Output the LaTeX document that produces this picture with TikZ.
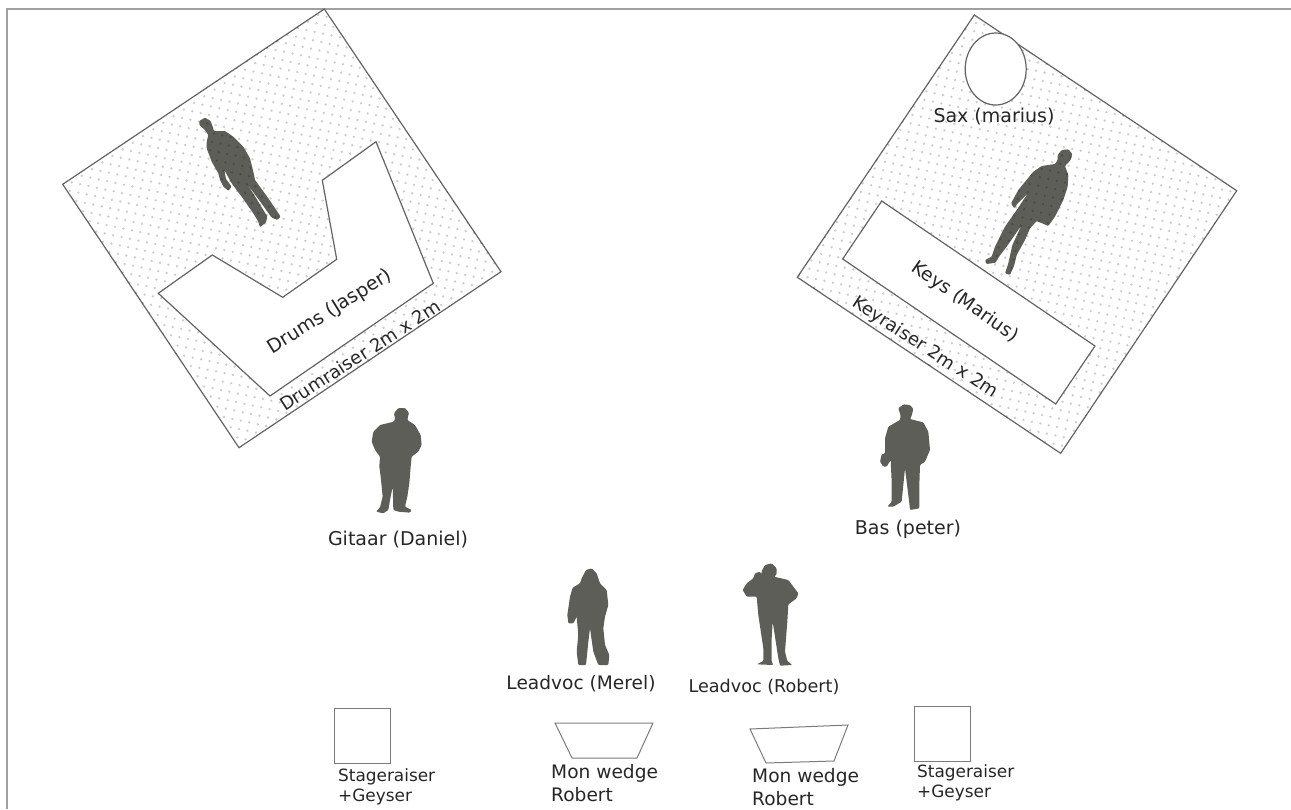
\documentclass[tikz,border=0pt]{standalone}
\usepackage{fontspec}
\setmainfont{DejaVu Sans}
\usetikzlibrary{patterns.meta}
\definecolor{figgray}{RGB}{93,94,87}
\definecolor{linegray}{RGB}{100,100,100}
\definecolor{framegray}{RGB}{160,160,160}

\begin{document}
\begin{tikzpicture}[
    x=1pt, y=-1pt,
    raiser/.style={draw=linegray, line width=1.2pt, fill=white},
    dotted area/.style={pattern={Dots[distance=8.6pt, radius=1.3pt, angle=-12]}, pattern color=black, fill opacity=0.2},
    blank/.style={draw=linegray, line width=1.2pt, fill=white},
    stagebox/.style={draw=linegray!85, line width=1pt, fill=white},
    person/.style={fill=figgray, rounded corners=1pt},
    caption/.style={font=\fontsize{19}{22}\selectfont, text=black!85, inner sep=0pt},
    small/.style={font=\fontsize{16.9}{20.5}\selectfont, text=black!85, inner sep=0pt, align=left, anchor=north west},
    medium/.style={small, font=\fontsize{18.6}{23}\selectfont}
]
\useasboundingbox (0,0) rectangle (1291,809);
\draw[framegray, line width=2pt] (6.5,809) -- (6.5,8.5) -- (1291,8.5);

% drum raiser
\fill[raiser] (324.3,9) -- (501,271.7) -- (239,447.7) -- (62.7,184.3) -- cycle;
\begin{scope}[shift={(190,105)}, scale=1/3]
\fill[person] (28,48) -- (45,38) -- (62,48) -- (68,65) -- (72,78) -- (105,78) -- (130,95) -- (160,125) -- (180,160) -- (190,200)
  -- (195,225) -- (235,280) -- (272,335) -- (262,345) -- (245,338) -- (205,282) -- (168,232) -- (200,282) -- (232,335) -- (228,352)
  -- (210,367) -- (205,350) -- (190,325) -- (155,275) -- (125,235) -- (103,195) -- (108,222) -- (125,245) -- (115,257) -- (100,245)
  -- (90,225) -- (85,205) -- (65,170) -- (50,130) -- (50,110) -- (55,90) -- (45,75) -- (28,60) -- cycle;
\end{scope}
\fill[dotted area] (324.3,9) -- (501,271.7) -- (239,447.7) -- (62.7,184.3) -- cycle;
\draw[blank] (376,141.7) -- (322.3,180.3) -- (336.7,259.3) -- (282.7,297.3) -- (212.3,255) -- (158.3,293.3) -- (270,396) -- (433.3,283.3) -- cycle;
\node[caption, rotate=32] (drums) at (330,312) {Drums (Jasper)};
\node[caption, rotate=33, font=\fontsize{18}{22}\selectfont] (drumraiser) at (360,355) {Drumraiser 2m x 2m};

% key raiser
\fill[raiser] (974.3,15) -- (1236.7,190.7) -- (1060.7,453.3) -- (797.3,277.3) -- cycle;
\begin{scope}[shift={(975,140)}, scale=1/3]
\fill[person] (248,45) -- (260,30) -- (280,28) -- (292,42) -- (287,60) -- (270,78) -- (280,105) -- (278,140) -- (265,180) -- (240,230)
  -- (220,258) -- (185,243) -- (165,265) -- (150,300) -- (125,345) -- (118,375) -- (105,405) -- (90,400) -- (100,370) -- (112,315)
  -- (140,255) -- (95,320) -- (72,350) -- (62,368) -- (35,372) -- (30,360) -- (50,350) -- (60,320) -- (90,260) -- (125,210)
  -- (160,158) -- (128,190) -- (118,205) -- (108,190) -- (130,150) -- (175,95) -- (200,78) -- (240,72) -- (248,60) -- cycle;
\end{scope}
\fill[dotted area] (974.3,15) -- (1236.7,190.7) -- (1060.7,453.3) -- (797.3,277.3) -- cycle;
\draw[blank] (881.7,201) -- (1095,346) -- (1055.7,404) -- (842.7,259) -- cycle;
\draw[blank] (995.7,69) ellipse [x radius=30.5, y radius=36];
\node[caption] (sax) at (994,117) {Sax (marius)};
\node[caption, rotate=-35, font=\fontsize{18.6}{22}\selectfont] (keys) at (965,302) {Keys (Marius)};
\node[caption, rotate=-33, font=\fontsize{18}{22}\selectfont] (keyraiser) at (925,348) {Keyraiser 2m x 2m};

% band on the floor
\begin{scope}[shift={(320,400)}, scale=1/3]
\fill[person] (222,40) -- (235,24) -- (255,24) -- (267,38) -- (262,60) -- (285,75) -- (302,105) -- (305,135) -- (295,155) -- (275,170)
  -- (272,200) -- (268,250) -- (262,290) -- (255,320) -- (275,330) -- (270,338) -- (235,335) -- (220,330) -- (218,260) -- (210,300)
  -- (205,330) -- (190,340) -- (168,335) -- (180,322) -- (188,290) -- (182,230) -- (178,200) -- (180,170) -- (165,150) -- (155,125)
  -- (160,95) -- (180,75) -- (222,65) -- (225,55) -- cycle;
\end{scope}
\begin{scope}[shift={(860,395)}, scale=1/3]
\fill[person] (115,40) -- (130,28) -- (150,30) -- (160,42) -- (155,62) -- (150,72) -- (190,82) -- (205,110) -- (210,165) -- (195,200)
  -- (180,210) -- (178,270) -- (178,340) -- (150,345) -- (148,325) -- (135,220) -- (125,320) -- (100,335) -- (82,335) -- (95,320)
  -- (95,260) -- (92,195) -- (80,215) -- (70,215) -- (60,200) -- (65,178) -- (75,175) -- (75,130) -- (85,95) -- (120,75) -- (122,62) -- cycle;
\end{scope}
\begin{scope}[shift={(550,555)}, scale=1/3]
\fill[person] (95,70) -- (108,45) -- (125,40) -- (140,55) -- (150,85) -- (170,105) -- (175,150) -- (165,185) -- (160,220) -- (165,270)
  -- (178,300) -- (175,330) -- (145,330) -- (130,290) -- (120,220) -- (115,260) -- (108,330) -- (85,330) -- (80,290) -- (85,240)
  -- (80,185) -- (70,205) -- (55,205) -- (52,180) -- (60,125) -- (68,98) -- (90,85) -- cycle;
\fill[person] (635,48) -- (645,30) -- (665,25) -- (680,40) -- (680,58) -- (672,65) -- (715,75) -- (745,115) -- (740,130) -- (715,148)
  -- (712,200) -- (705,290) -- (712,318) -- (727,330) -- (690,332) -- (685,310) -- (668,200) -- (665,250) -- (665,320) -- (670,330)
  -- (620,328) -- (640,318) -- (640,280) -- (625,180) -- (620,125) -- (590,125) -- (578,105) -- (590,85) -- (610,70) -- (615,55)
  -- (630,50) -- (635,58) -- cycle;
\end{scope}
\node[caption] (gitaar) at (398,540) {Gitaar (Daniel)};
\node[caption] (bas) at (908,529) {Bas (peter)};
\node[caption, font=\fontsize{18.6}{22}\selectfont] (merel) at (581,684) {Leadvoc (Merel)};
\node[caption, font=\fontsize{17.6}{22}\selectfont] (robert) at (764,687) {Leadvoc (Robert)};

% front of stage
\node[stagebox, inner sep=0pt, minimum width=56pt, minimum height=55pt] (raiserl) at (362,735.5) {};
\node[stagebox, inner sep=0pt, minimum width=56pt, minimum height=55pt] (raiserr) at (942,733.5) {};
\draw[stagebox] (555,723) -- (653,723) -- (637,758) -- (572,758) -- cycle;
\draw[stagebox] (750,729) -- (848,725) -- (834,761) -- (766,763) -- cycle;
\node[small] (stagel) at (338,768) {Stageraiser\\+Geyser};
\node[small] (stager) at (917,764) {Stageraiser\\+Geyser};
\node[medium] (wedgel) at (551,764) {Mon wedge\\Robert};
\node[medium] (wedger) at (752,768) {Mon wedge\\Robert};
\end{tikzpicture}
\end{document}
